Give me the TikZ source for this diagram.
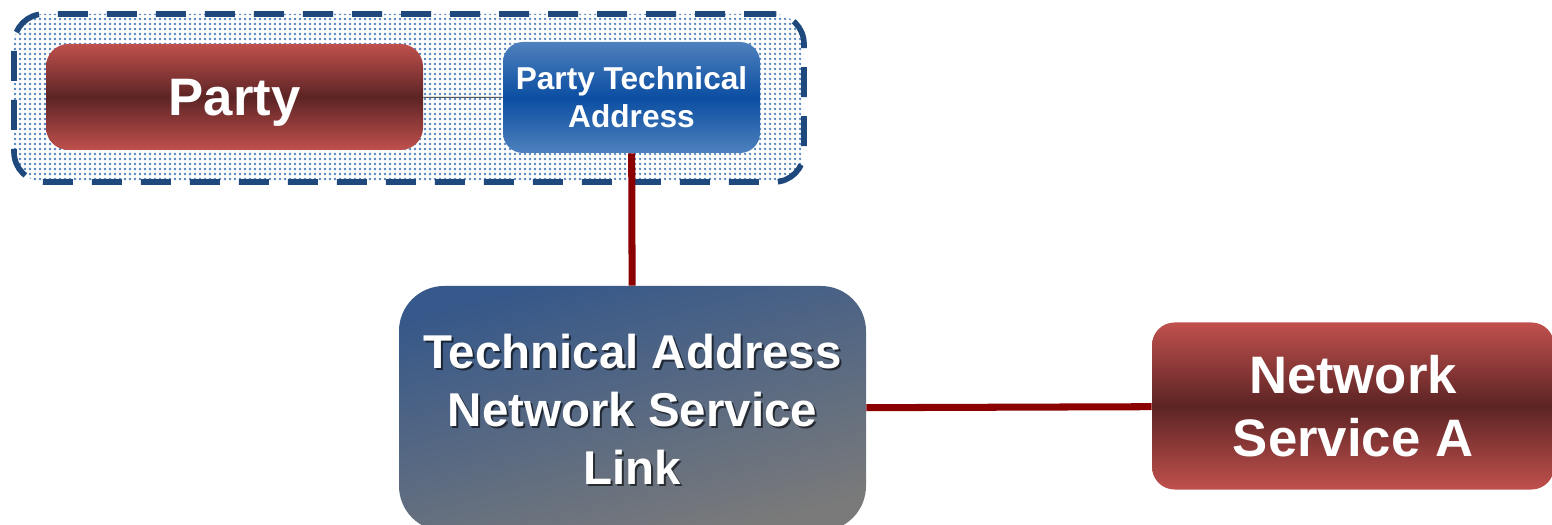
\documentclass[tikz,border=0pt]{standalone}
\usepackage{fontspec}
\setmainfont{Liberation Sans}
\usetikzlibrary{positioning, patterns.meta}
\definecolor{redlight}{HTML}{C0504D}
\definecolor{reddark}{HTML}{5C2424}
\definecolor{bluelight}{HTML}{4F81BD}
\definecolor{bluedark}{HTML}{0B4EA2}
\definecolor{slateblue}{HTML}{36588A}
\definecolor{slategrey}{HTML}{7A7A7A}
\definecolor{groupblue}{HTML}{1F497D}
\definecolor{linkred}{HTML}{8B0000}

\begin{document}
\begin{tikzpicture}[
        font=\bfseries,
        redbox/.style={rounded corners=0.45cm, top color=redlight, bottom color=redlight, middle color=reddark, text=white, align=center, inner sep=0pt},
        bluebox/.style={rounded corners=0.4cm, top color=bluelight, bottom color=bluelight, middle color=bluedark, text=white, align=center, inner sep=0pt},
        linkbox/.style={rounded corners=0.9cm, shading=axis, left color=slateblue, right color=slategrey, shading angle=15, text=white, align=center, inner sep=0pt},
        linktext/.style={align=center, font=\fontsize{27}{33}\selectfont\bfseries},
        link/.style={draw=linkred, line width=4pt}
      ]
        \useasboundingbox (0,0) rectangle (31.04,10.48);

        % group around party and its address
        \node[draw=groupblue, line width=3.2pt, dash pattern=on 0.6cm off 0.38cm, rounded corners=0.6cm,
              pattern={Dots[distance=0.1cm, radius=0.75pt]}, pattern color=bluelight,
              minimum width=15.8cm, minimum height=3.36cm] (grp) at (8.18,8.52) {};

        % ---- top row ----
        \node[redbox, minimum width=7.54cm, minimum height=2.12cm, text depth=0pt, font=\fontsize{30}{34}\selectfont\bfseries] (party) at (4.69,8.54) {Party};
        \node[bluebox, minimum width=5.14cm, minimum height=2.22cm, font=\fontsize{18}{21.6}\selectfont\bfseries] (pta) at (12.63,8.53) {Party Technical\\Address};

        % ---- bottom row ----
        \node[linkbox, minimum width=9.34cm, minimum height=4.9cm] (tansl) at (12.65,2.31) {};
        \node[linktext, text=black, opacity=0.6] (tanslshadow) at (12.69,2.26) {Technical Address\\Network Service\\Link};
        \node[linktext, text=white] (tansltext) at (12.65,2.30) {Technical Address\\Network Service\\Link};
        \node[redbox, minimum width=8.04cm, minimum height=3.34cm, font=\fontsize{30}{36}\selectfont\bfseries] (nsa) at (27.06,2.36) {Network\\Service A};

        % connectors
        \draw[thin] (party) -- (pta);
        \draw[link] (pta) -- (tansl);
        \draw[link] (tansl) -- (nsa);
    \end{tikzpicture}
\end{document}
